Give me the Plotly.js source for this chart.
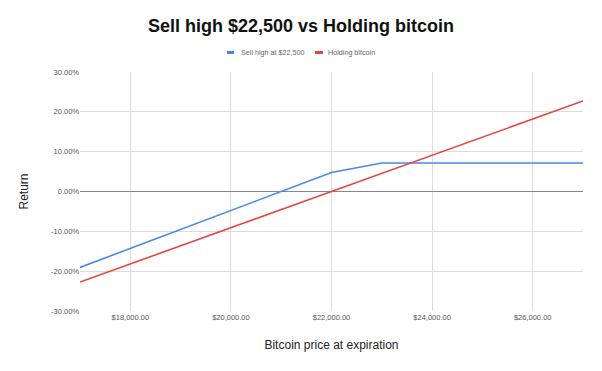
<!DOCTYPE html>
<html>
<head>
<meta charset="utf-8">
<script src="https://cdn.plot.ly/plotly-3.0.1.min.js"></script>
<style>html,body{margin:0;padding:0;background:#fff;}#chart{width:602px;height:371px;}</style>
</head>
<body>
<div id="chart"></div>
<script>
const prices = [17000, 18000, 19000, 20000, 21000, 22000, 23000, 24000, 25000, 26000, 27000];
const sellHigh = [-19.05, -14.29, -9.52, -4.76, 0.00, 4.76, 7.14, 7.14, 7.14, 7.14, 7.14];
const holding = [-22.73, -18.18, -13.64, -9.09, -4.55, 0.00, 4.55, 9.09, 13.64, 18.18, 22.73];
const seriesNames = ["Sell high at $22,500", "Holding bitcoin"];
const seriesColors = ['#4a86e8', '#e8453c'];
const xTicks = [18000, 20000, 22000, 24000, 26000];
const xTickLabels = ["$18,000.00", "$20,000.00", "$22,000.00", "$24,000.00", "$26,000.00"];
const yTicks = [-30, -20, -10, 0, 10, 20, 30];
const yTickLabels = ["-30.00%", "-20.00%", "-10.00%", "0.00%", "10.00%", "20.00%", "30.00%"];

const traces = [
  {x: prices, y: sellHigh, name: seriesNames[0], type: 'scatter', mode: 'lines',
   line: {color: seriesColors[0], width: 1.6}},
  {x: prices, y: holding, name: seriesNames[1], type: 'scatter', mode: 'lines',
   line: {color: seriesColors[1], width: 1.6}}
];

// custom compact legend (short line swatches like the reference)
const legY = 1.0816;
const legItems = [
  {x0: 0.2922, x1: 0.3062, tx: 0.3161},
  {x0: 0.4672, x1: 0.4831, tx: 0.4891}
];
const shapes = legItems.map((it, i) => ({
  type: 'line', xref: 'paper', yref: 'paper', x0: it.x0, x1: it.x1, y0: legY, y1: legY,
  line: {color: seriesColors[i], width: 3}
}));
const annotations = legItems.map((it, i) => ({
  xref: 'paper', yref: 'paper', x: it.tx, y: legY, xanchor: 'left', yanchor: 'middle',
  text: seriesNames[i], showarrow: false, font: {size: 7.2, color: '#666'}
}));

const layout = {
  width: 602, height: 371,
  margin: {l: 80, r: 19, t: 72, b: 60},
  paper_bgcolor: '#fff', plot_bgcolor: '#fff',
  font: {family: 'Liberation Sans, Arial, sans-serif', color: '#222'},
  title: {text: '<b>Sell high $22,500 vs Holding bitcoin</b>', x: 0.5, xanchor: 'center',
          y: 0.93, yanchor: 'middle', font: {size: 18, color: '#111'}},
  showlegend: false,
  shapes: shapes,
  annotations: annotations,
  xaxis: {
    range: [17000, 27000], tickmode: 'array', tickvals: xTicks, ticktext: xTickLabels,
    showgrid: true, gridcolor: '#dcdcdc', gridwidth: 1, zeroline: false,
    showline: false, ticks: '', tickfont: {size: 7.5, color: '#555'},
    title: {text: 'Bitcoin price at expiration', font: {size: 12, color: '#222'}, standoff: 20}
  },
  yaxis: {
    range: [-30, 30], tickmode: 'array', tickvals: yTicks, ticktext: yTickLabels,
    showgrid: true, gridcolor: '#dcdcdc', gridwidth: 1,
    zeroline: true, zerolinecolor: '#888', zerolinewidth: 1,
    showline: false, ticks: '', tickfont: {size: 7.5, color: '#555'},
    title: {text: 'Return', font: {size: 12, color: '#222'}, standoff: 19}
  }
};

Plotly.newPlot('chart', traces, layout, {displayModeBar: false, staticPlot: true});
</script>
</body>
</html>
